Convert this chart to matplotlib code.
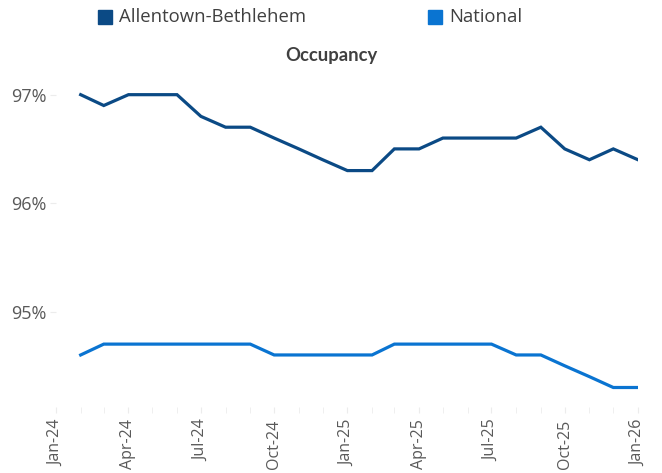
import numpy as np
import pandas as pd
import matplotlib.pyplot as plt
import matplotlib.dates as mdates
from matplotlib.patches import Rectangle

# monthly occupancy, Feb-24 .. Jan-26
months = pd.date_range('2024-02-01', '2026-01-01', freq='MS')
allentown = [97.0, 96.9, 97.0, 97.0, 97.0, 96.8, 96.7, 96.7, 96.6, 96.5, 96.4, 96.3,
             96.3, 96.5, 96.5, 96.6, 96.6, 96.6, 96.6, 96.7, 96.5, 96.4, 96.5, 96.4]
national = [94.6, 94.7, 94.7, 94.7, 94.7, 94.7, 94.7, 94.7, 94.6, 94.6, 94.6, 94.6,
            94.6, 94.7, 94.7, 94.7, 94.7, 94.7, 94.6, 94.6, 94.5, 94.4, 94.3, 94.3]
series_names = ['Allentown-Bethlehem', 'National']
colors = ['#0b4a85', '#0a74d1']

plt.rcParams['font.family'] = ['Open Sans', 'DejaVu Sans']

fig = plt.figure(figsize=(6.62, 4.73), dpi=100)
ax = fig.add_axes([0.0846, 0.1395, 0.8791, 0.7062])

ax.plot(months, allentown, color=colors[0], lw=2.3, solid_joinstyle='miter')
ax.plot(months, national, color=colors[1], lw=2.3, solid_joinstyle='miter')

ax.set_xlim(pd.Timestamp('2024-01-01'), pd.Timestamp('2026-01-01'))
ax.set_ylim(94.12, 97.2)
ax.set_yticks([95, 96, 97])
ax.set_yticklabels(['95%', '96%', '97%'])

ax.xaxis.set_major_locator(mdates.MonthLocator(bymonth=[1, 4, 7, 10]))
ax.xaxis.set_minor_locator(mdates.MonthLocator())
ax.xaxis.set_major_formatter(mdates.DateFormatter('%b-%y'))
plt.setp(ax.get_xticklabels(), rotation=90)

for s in ax.spines.values():
    s.set_visible(False)
ax.tick_params(axis='x', which='both', length=4, color='#ececec', labelsize=11.5,
               labelcolor='#595959', pad=5)
ax.tick_params(axis='y', length=4, color='#ececec', labelsize=13,
               labelcolor='#595959', pad=3)

# title centred on the figure
fig.text(0.5, 1 - 55 / 473, 'Occupancy', fontsize=13.3, fontweight='bold',
         color='#404040', family=['Lato', 'DejaVu Sans'], ha='center', va='center')

# legend at top
leg_x = [98, 428]
for name, c, lx in zip(series_names, colors, leg_x):
    fig.patches.append(Rectangle((lx / 662, 1 - 24 / 473), 14 / 662, 14 / 473,
                                 transform=fig.transFigure, color=c))
    fig.text((lx + 21) / 662, 1 - 17 / 473, name, fontsize=13.3, color='#404040',
             va='center', ha='left')

fig.savefig('out.png', dpi=100)
